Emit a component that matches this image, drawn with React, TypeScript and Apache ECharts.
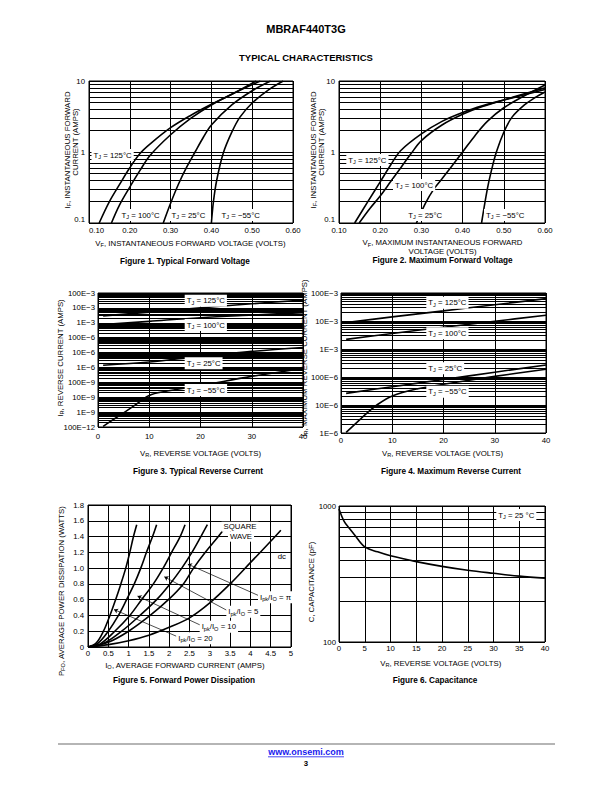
import React, { useEffect, useRef } from 'react';
import * as echarts from 'echarts';

const FONT = '"Liberation Sans", Arial, Helvetica, sans-serif';

// ---------- Figure 1: Typical Forward Voltage (V, A) ----------
const fig1Tj125 = [[0.125, 0.1], [0.15, 0.2], [0.175, 0.35], [0.2, 0.6], [0.225, 0.95], [0.25, 1.3], [0.3, 2.2], [0.35, 3.3], [0.4, 4.7], [0.45, 6.5], [0.51, 10]];
const fig1Tj100 = [[0.155, 0.1], [0.175, 0.18], [0.2, 0.32], [0.225, 0.55], [0.25, 0.9], [0.3, 1.75], [0.35, 3.0], [0.4, 4.6], [0.45, 6.5], [0.52, 10]];
const fig1Tj25 = [[0.282, 0.1], [0.3, 0.19], [0.32, 0.36], [0.34, 0.62], [0.36, 1.0], [0.38, 1.6], [0.4, 2.4], [0.45, 4.6], [0.5, 7.3], [0.545, 10]];
const fig1TjM55 = [[0.4, 0.1], [0.405, 0.2], [0.413, 0.4], [0.429, 0.96], [0.45, 1.9], [0.47, 3.1], [0.5, 4.9], [0.54, 7.5], [0.576, 10]];

// ---------- Figure 2: Maximum Forward Voltage ----------
const fig2Tj125 = [[0.138, 0.1], [0.17, 0.2], [0.2, 0.38], [0.225, 0.65], [0.25, 1.05], [0.3, 1.8], [0.35, 2.7], [0.4, 3.6], [0.45, 4.5], [0.5, 5.4], [0.55, 6.4], [0.6, 7.6]];
const fig2Tj100 = [[0.149, 0.1], [0.175, 0.16], [0.2, 0.24], [0.225, 0.38], [0.25, 0.6], [0.275, 0.95], [0.3, 1.45], [0.35, 2.4], [0.4, 3.4], [0.45, 4.4], [0.5, 5.4], [0.55, 6.6], [0.6, 8.0]];
const fig2Tj25 = [[0.288, 0.1], [0.31, 0.19], [0.33, 0.3], [0.35, 0.42], [0.4, 1.0], [0.43, 1.7], [0.46, 2.7], [0.5, 4.2], [0.55, 6.2], [0.6, 8.8]];
const fig2TjM55 = [[0.446, 0.1], [0.46, 0.3], [0.47, 0.55], [0.482, 1.0], [0.5, 1.9], [0.52, 3.1], [0.55, 4.6], [0.575, 5.8], [0.6, 7.0]];

// ---------- Figure 3: Typical Reverse Current (V, A) ----------
const fig3Tj125 = [[1, 2.9e-3], [10, 5.2e-3], [20, 10e-3], [30, 19e-3], [40, 33e-3]];
const fig3Tj100 = [[1, 0.75e-3], [10, 1.25e-3], [20, 2.2e-3], [30, 3.3e-3], [40, 4.8e-3]];
const fig3Tj25 = [[1, 1.4e-6], [10, 2.3e-6], [20, 5.5e-6], [30, 12e-6], [40, 22e-6]];
const fig3TjM55 = [[1, 1.1e-10], [3, 3.2e-10], [5, 9e-10], [7, 2.6e-9], [10, 1.3e-8], [13, 2.4e-8], [20, 6e-8], [30, 2.5e-7], [40, 8.5e-7]];

// ---------- Figure 4: Maximum Reverse Current ----------
const fig4Tj125 = [[1, 8.8e-3], [10, 14e-3], [20, 23e-3], [30, 38e-3], [40, 63e-3]];
const fig4Tj100 = [[1, 2.2e-3], [10, 3.6e-3], [20, 6e-3], [30, 9.8e-3], [40, 16e-3]];
const fig4Tj25 = [[1, 26e-6], [10, 45e-6], [20, 81e-6], [30, 148e-6], [40, 270e-6]];
const fig4TjM55 = [[1, 1.05e-6], [3, 2.3e-6], [5, 5e-6], [7, 10e-6], [10, 21e-6], [15, 38e-6], [20, 55e-6], [30, 105e-6], [40, 190e-6]];

// ---------- Figure 5: Forward Power Dissipation (A, W) ----------
const fig5Ratio20 = [[0, 0], [0.2, 0.05], [0.38, 0.2], [0.54, 0.4], [0.68, 0.6], [0.81, 0.8], [0.93, 1.0], [1.03, 1.2], [1.12, 1.4], [1.2, 1.55]];
const fig5Ratio10 = [[0, 0], [0.25, 0.05], [0.5, 0.2], [0.75, 0.4], [0.95, 0.6], [1.14, 0.8], [1.3, 1.0], [1.44, 1.2], [1.59, 1.4], [1.69, 1.55]];
const fig5Ratio5 = [[0, 0], [0.3, 0.04], [0.66, 0.2], [1.03, 0.4], [1.32, 0.6], [1.61, 0.8], [1.85, 1.0], [2.06, 1.2], [2.27, 1.4], [2.39, 1.55]];
const fig5RatioPi = [[0, 0], [0.4, 0.05], [0.83, 0.2], [1.28, 0.4], [1.69, 0.6], [2.02, 0.8], [2.31, 1.0], [2.56, 1.2], [2.78, 1.4], [2.94, 1.55]];
const fig5Square = [[0, 0], [0.5, 0.06], [1.0, 0.2], [1.53, 0.4], [1.98, 0.6], [2.35, 0.8], [2.6, 1.0], [2.89, 1.2], [3.21, 1.4], [3.39, 1.52]];
const fig5Dc = [[0, 0], [0.5, 0.03], [1, 0.08], [1.5, 0.15], [2, 0.25], [2.5, 0.37], [3, 0.56], [3.5, 0.8], [4, 1.07], [4.5, 1.34], [4.75, 1.48]];
// arrows (label end -> curve) in data units
const fig5ArrowCoords = [
  [[4.21, 0.65], [2.46, 1.05]],
  [[3.42, 0.465], [1.88, 0.89]],
  [[2.8, 0.27], [1.22, 0.645]],
  [[2.18, 0.136], [0.64, 0.475]],
];

// ---------- Figure 6: Capacitance (V, pF) ----------
const fig6Cap = [[0, 950], [1, 770], [2, 685], [3, 615], [5, 500], [7.5, 460], [10, 430], [15, 390], [20, 360], [25, 337], [30, 320], [35, 305], [40, 295]];

// ---------- tick labels ----------
const fwdVoltTicks = ['0.10', '0.20', '0.30', '0.40', '0.50', '0.60'];
const fwdCurrTicks = ['0.1', '1', '10'];
const revVoltTicks = ['0', '10', '20', '30', '40'];
const revCurr3Ticks = ['100E−12', '1E−9', '10E−9', '100E−9', '1E−6', '10E−6', '100E−6', '1E−3', '10E−3', '100E−3'];
const revCurr4Ticks = ['1E−6', '10E−6', '100E−6', '1E−3', '10E−3', '100E−3'];
const ioTicks = ['0', '0.5', '1', '1.5', '2', '2.5', '3', '3.5', '4', '4.5', '5'];
const pfoTicks = ['0', '0.2', '0.4', '0.6', '0.8', '1.0', '1.2', '1.4', '1.6', '1.8'];
const capVoltTicks = ['0', '5', '10', '15', '20', '25', '30', '35', '40'];
const capTicks = ['100', '1000'];

const RICH = (size: number) => ({
  n: { fontSize: size, fontFamily: FONT },
  s: { fontSize: size * 0.72, fontFamily: FONT, padding: [size * 0.5, 0, 0, 0] },
});

function txt(text: string, x: number, y: number, o: any = {}) {
  const size = o.size ?? 7.8;
  return {
    type: 'text',
    x,
    y,
    rotation: o.rot ?? 0,
    z: 100,
    silent: true,
    style: {
      text,
      fontFamily: FONT,
      fontSize: size,
      fontWeight: o.bold ? 'bold' : 'normal',
      fill: o.fill ?? '#000',
      align: o.align ?? 'center',
      verticalAlign: 'middle',
      rich: RICH(size),
      ...(o.bg ? { backgroundColor: '#fff', padding: [1, 2, 1, 2] } : {}),
    },
  };
}

const tj = (t: string) => `{n|T}{s|J}{n| = ${t}°C}`;
const ipk = (r: string) => `{n|I}{s|pk}{n|/I}{s|O}{n| = ${r}}`;

const labelBase = { color: '#000', fontFamily: FONT, fontSize: 7.8, interval: 0, showMinLabel: true, showMaxLabel: true, hideOverlap: false };
const splitBase = { show: true, lineStyle: { color: '#000', width: 1 } };

function linAxis(gridIndex: number, min: number, max: number, interval: number, ticks: string[], margin: number, extraLabel: any = {}) {
  return {
    type: 'value', gridIndex, min, max, interval,
    axisLine: { show: false }, axisTick: { show: false }, splitLine: splitBase,
    axisLabel: { ...labelBase, margin, formatter: (v: number) => ticks[Math.round((v - min) / interval)] ?? '', ...extraLabel },
  };
}
function logAxis(gridIndex: number, min: number, max: number, ticks: string[], margin: number, extraLabel: any = {}) {
  const e0 = Math.round(Math.log10(min));
  return {
    type: 'log', logBase: 10, gridIndex, min, max,
    axisLine: { show: false }, axisTick: { show: false }, splitLine: splitBase,
    axisLabel: { ...labelBase, margin, formatter: (v: number) => ticks[Math.round(Math.log10(v)) - e0] ?? '', ...extraLabel },
  };
}
function minorValues(e0: number, e1: number) {
  const out: number[] = [];
  for (let e = e0; e < e1; e++) for (let k = 2; k <= 9; k++) out.push(Number((k * Math.pow(10, e)).toPrecision(3)));
  return out;
}
const gridMark = (vals: number[]) => ({
  silent: true, symbol: ['none', 'none'], precision: 20, label: { show: false }, emphasis: { disabled: true }, animation: false,
  lineStyle: { color: '#000', width: 1, type: 'solid' },
  data: vals.map((v) => ({ yAxis: v })),
});
function curve(data: number[][], idx: number, extra: any = {}) {
  return {
    type: 'line', xAxisIndex: idx, yAxisIndex: idx, data, smooth: 0.35, symbol: 'none', silent: true,
    lineStyle: { color: '#000', width: 1.6 }, animation: false, ...extra,
  };
}

function buildOption() {
  const gridStyle = { show: true, borderColor: '#000', borderWidth: 1, backgroundColor: 'transparent' };
  const grids = [
    { left: 89, top: 81, width: 204, height: 142 },
    { left: 339, top: 81, width: 206, height: 142 },
    { left: 98, top: 293, width: 205, height: 134 },
    { left: 341, top: 293, width: 205, height: 140 },
    { left: 88, top: 505, width: 203, height: 142 },
    { left: 339, top: 506, width: 206, height: 136 },
  ].map((g) => ({ ...g, ...gridStyle }));

  const xAxis = [
    linAxis(0, 0.1, 0.6, 0.1, fwdVoltTicks, 3, { alignMinLabel: 'left' }),
    linAxis(1, 0.1, 0.6, 0.1, fwdVoltTicks, 3),
    linAxis(2, 0, 40, 10, revVoltTicks, 5),
    linAxis(3, 0, 40, 10, revVoltTicks, 3),
    linAxis(4, 0, 5, 0.5, ioTicks, 2),
    linAxis(5, 0, 40, 5, capVoltTicks, 2),
  ];
  const yAxis = [
    logAxis(0, 0.1, 10, fwdCurrTicks, 4, { verticalAlignMinLabel: 'bottom' }),
    logAxis(1, 0.1, 10, fwdCurrTicks, 4, { verticalAlignMinLabel: 'bottom' }),
    logAxis(2, 1e-10, 0.1, revCurr3Ticks, 3),
    logAxis(3, 1e-6, 0.1, revCurr4Ticks, 3),
    linAxis(4, 0, 1.8, 0.2, pfoTicks, 4),
    logAxis(5, 100, 1000, capTicks, 3),
  ];

  const arrowMark = {
    silent: true, symbol: ['none', 'arrow'], symbolSize: 4, precision: 20, label: { show: false }, emphasis: { disabled: true }, animation: false,
    lineStyle: { color: '#000', width: 0.7, type: 'solid' },
    data: fig5ArrowCoords.map(([a, b]) => [{ coord: a }, { coord: b }]),
  };

  const series = [
    curve(fig1Tj125, 0, { markLine: gridMark(minorValues(-1, 1)) }),
    curve(fig1Tj100, 0), curve(fig1Tj25, 0), curve(fig1TjM55, 0),
    curve(fig2Tj125, 1, { markLine: gridMark(minorValues(-1, 1)) }),
    curve(fig2Tj100, 1), curve(fig2Tj25, 1), curve(fig2TjM55, 1),
    curve(fig3Tj125, 2, { markLine: gridMark(minorValues(-10, -1)) }),
    curve(fig3Tj100, 2), curve(fig3Tj25, 2), curve(fig3TjM55, 2),
    curve(fig4Tj125, 3, { markLine: gridMark(minorValues(-6, -1)) }),
    curve(fig4Tj100, 3), curve(fig4Tj25, 3), curve(fig4TjM55, 3),
    curve(fig5Ratio20, 4, { markLine: arrowMark }),
    curve(fig5Ratio10, 4), curve(fig5Ratio5, 4), curve(fig5RatioPi, 4), curve(fig5Square, 4), curve(fig5Dc, 4),
    curve(fig6Cap, 5, { markLine: gridMark(minorValues(2, 3)) }),
  ];

  const R = Math.PI / 2;
  const graphic = [
    txt('MBRAF440T3G', 306, 29, { size: 11, bold: true }),
    txt('TYPICAL CHARACTERISTICS', 306, 57.3, { size: 9.5, bold: true }),

    // Figure 1
    txt('{n|I}{s|F}{n|, INSTANTANEOUS FORWARD}', 67.3, 150, { rot: R }),
    txt('CURRENT (AMPS)', 75.5, 142, { rot: R }),
    txt('{n|V}{s|F}{n|, INSTANTANEOUS FORWARD VOLTAGE (VOLTS)}', 190.5, 243.3),
    txt('Figure 1. Typical Forward Voltage', 185, 261.5, { size: 8.2, bold: true }),
    txt(tj('125'), 91.5, 155, { align: 'left', bg: true }),
    txt(tj('100'), 119.5, 215, { align: 'left', bg: true }),
    txt(tj('25'), 169.5, 215, { align: 'left', bg: true }),
    txt(tj('−55'), 219.5, 215, { align: 'left', bg: true }),

    // Figure 2
    txt('{n|I}{s|F}{n|, INSTANTANEOUS FORWARD}', 313.3, 150, { rot: R }),
    txt('CURRENT (AMPS)', 321, 142, { rot: R }),
    txt('{n|V}{s|F}{n|, MAXIMUM INSTANTANEOUS FORWARD}', 442.5, 242.7),
    txt('VOLTAGE (VOLTS)', 442.5, 251.7),
    txt('Figure 2. Maximum Forward Voltage', 442.5, 260.5, { size: 8.2, bold: true }),
    txt(tj('125'), 346.3, 160, { align: 'left', bg: true }),
    txt(tj('100'), 393, 185, { align: 'left', bg: true }),
    txt(tj('25'), 406.3, 215, { align: 'left', bg: true }),
    txt(tj('−55'), 484, 215, { align: 'left', bg: true }),

    // Figure 3
    txt('{n|I}{s|R}{n|, REVERSE CURRENT (AMPS)}', 60, 358, { rot: R }),
    txt('{n|V}{s|R}{n|, REVERSE VOLTAGE (VOLTS)}', 200.5, 453.3),
    txt('Figure 3. Typical Reverse Current', 198, 471.7, { size: 8.2, bold: true }),
    txt(tj('125'), 184.7, 300.7, { align: 'left', bg: true }),
    txt(tj('100'), 184.7, 325, { align: 'left', bg: true }),
    txt(tj('25'), 184.7, 363.3, { align: 'left', bg: true }),
    txt(tj('−55'), 184.7, 390, { align: 'left', bg: true }),

    // Figure 4
    txt('{n|I}{s|R}{n|, MAXIMUM REVERSE CURRENT (AMPS)}', 304.5, 358, { rot: R }),
    txt('{n|V}{s|R}{n|, REVERSE VOLTAGE (VOLTS)}', 442.5, 453.3),
    txt('Figure 4. Maximum Reverse Current', 451, 471.7, { size: 8.2, bold: true }),
    txt(tj('125'), 426.3, 302.7, { align: 'left', bg: true }),
    txt(tj('100'), 426.3, 333.3, { align: 'left', bg: true }),
    txt(tj('25'), 426.3, 368.3, { align: 'left', bg: true }),
    txt(tj('−55'), 426.3, 391.7, { align: 'left', bg: true }),

    // Figure 5
    txt('{n|P}{s|FO}{n|, AVERAGE POWER DISSIPATION (WATTS)}', 61, 591, { rot: R }),
    txt('{n|I}{s|O}{n|, AVERAGE FORWARD CURRENT (AMPS)}', 185, 665),
    txt('Figure 5. Forward Power Dissipation', 184, 680.7, { size: 8.2, bold: true }),
    txt('SQUARE', 240, 526.7, { bg: true }),
    txt('WAVE', 241, 536.7, { bg: true }),
    txt('dc', 277.7, 556, { align: 'left' }),
    txt(ipk('π'), 258, 597.3, { align: 'left', bg: true }),
    txt(ipk('5'), 226.3, 611.7, { align: 'left', bg: true }),
    txt(ipk('10'), 199.7, 626.7, { align: 'left', bg: true }),
    txt(ipk('20'), 176.3, 638.3, { align: 'left', bg: true }),

    // Figure 6
    txt('C, CAPACITANCE (pF)', 311.7, 582, { rot: R }),
    txt('{n|V}{s|R}{n|, REVERSE VOLTAGE (VOLTS)}', 440.7, 663.3),
    txt('Figure 6. Capacitance', 435, 680.7, { size: 8.2, bold: true }),
    txt('{n|T}{s|J}{n| = 25 °C}', 496.3, 515, { align: 'left', bg: true }),

    // footer
    { type: 'line', z: 100, silent: true, shape: { x1: 58, y1: 744, x2: 555, y2: 744 }, style: { stroke: '#b5b5b5', lineWidth: 2 } },
    txt('www.onsemi.com', 306, 752, { size: 9, bold: true, fill: '#1a1aee' }),
    { type: 'line', z: 100, silent: true, shape: { x1: 268, y1: 756.8, x2: 344, y2: 756.8 }, style: { stroke: '#1a1aee', lineWidth: 0.8 } },
    txt('3', 306, 763.5, { size: 7.8, bold: true }),
  ];

  return { animation: false, backgroundColor: '#fff', grid: grids, xAxis, yAxis, series, graphic };
}

export default function App() {
  const ref = useRef<HTMLDivElement>(null);
  useEffect(() => {
    if (!ref.current) return;
    const chart = echarts.init(ref.current, null, { renderer: 'svg', width: 612, height: 792 });
    chart.setOption(buildOption() as any);
    return () => chart.dispose();
  }, []);
  return <div ref={ref} style={{ position: 'absolute', left: 0, top: 0, width: 612, height: 792, background: '#fff' }} />;
}
